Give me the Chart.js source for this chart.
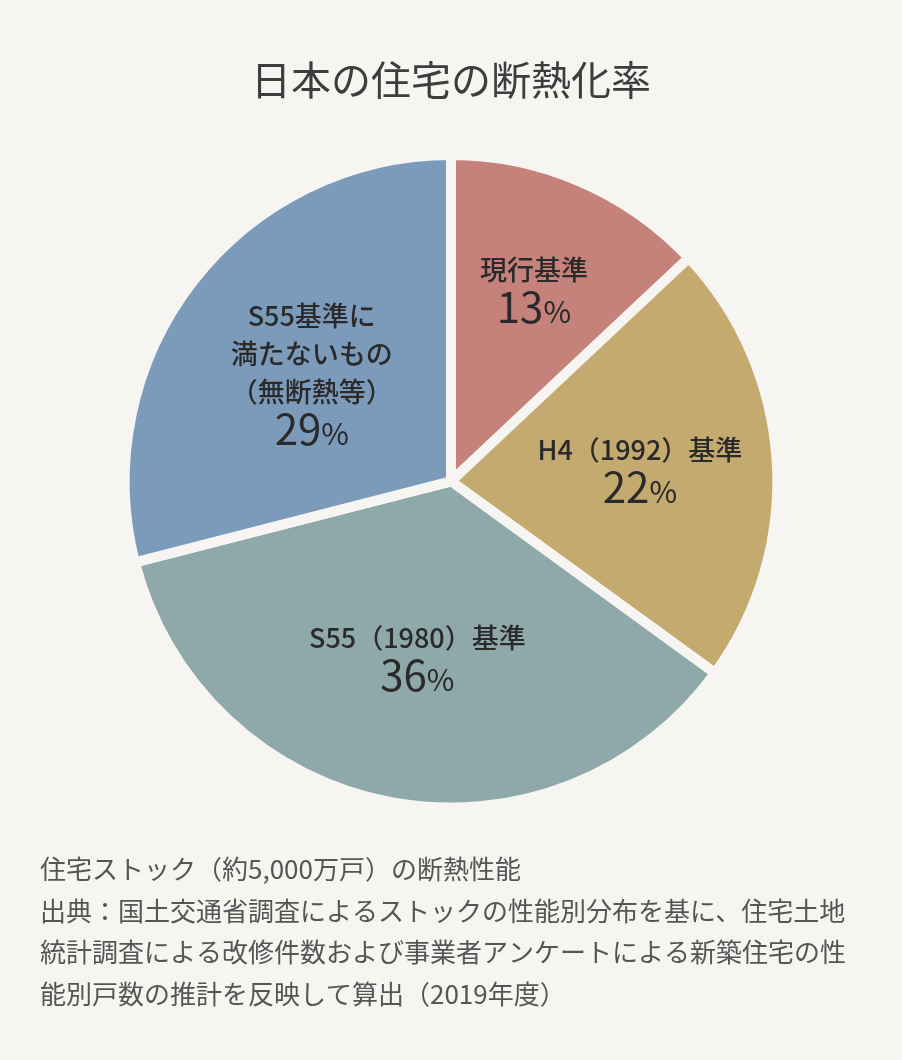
<!DOCTYPE html>
<html lang="ja">
<head>
<meta charset="utf-8">
<title>日本の住宅の断熱化率</title>
<script src="https://cdn.jsdelivr.net/npm/chart.js@4.4.1/dist/chart.umd.min.js"></script>
<style>
  html, body { margin: 0; padding: 0; background: #f7f5f1; }
  canvas { display: block; }
</style>
</head>
<body>
<canvas id="pie" width="902" height="1060"></canvas>
<script>
// data
const categories = [
  ['現行基準'],
  ['H4（1992）基準'],
  ['S55（1980）基準'],
  ['S55基準に', '満たないもの', '（無断熱等）'],
]
const shares = [13, 22, 36, 29]
const sliceColors = ['#c5827a', '#c5aa6f', '#8fa8aa', '#7c9bbb']
const titleText = '日本の住宅の断熱化率'
const noteLines = [
  '住宅ストック（約5,000万戸）の断熱性能',
  '出典：国土交通省調査によるストックの性能別分布を基に、住宅土地',
  '統計調査による改修件数および事業者アンケートによる新築住宅の性',
  '能別戸数の推計を反映して算出（2019年度）',
]

const bg = '#f7f5f1'
const jp = "'Noto Sans CJK JP', 'Noto Sans', sans-serif"
// how far out (share of radius) each label block sits
const labelRadius = [0.64, 0.58, 0.55, 0.54]

// draws the names and percentages inside the slices
const sliceLabels = {
  id: 'sliceLabels',
  afterDatasetsDraw(chart) {
    const ctx = chart.ctx
    const arcs = chart.getDatasetMeta(0).data
    arcs.forEach((arc, i) => {
      const p = arc.getProps(['x', 'y', 'startAngle', 'endAngle', 'outerRadius'], true)
      const mid = (p.startAngle + p.endAngle) / 2
      const r = p.outerRadius * labelRadius[i]
      const cx = p.x + Math.cos(mid) * r
      const cy = p.y + Math.sin(mid) * r

      const lines = categories[i]
      const lineGap = 38
      const blockH = (lines.length - 1) * lineGap + 52 + 13
      const firstY = cy - blockH / 2 + 13

      ctx.save()
      ctx.fillStyle = '#2a2a2a'
      ctx.textAlign = 'center'
      ctx.textBaseline = 'middle'
      ctx.font = '500 27px ' + jp
      lines.forEach((t, k) => ctx.fillText(t, cx, firstY + k * lineGap))

      // percentage: big number, smaller % sign
      const base = firstY + (lines.length - 1) * lineGap + 53
      const num = String(shares[i])
      ctx.textBaseline = 'alphabetic'
      ctx.textAlign = 'left'
      ctx.font = '400 42px ' + jp
      const wNum = ctx.measureText(num).width
      ctx.font = '400 30px ' + jp
      const wPct = ctx.measureText('%').width
      const x0 = cx - (wNum + wPct) / 2
      ctx.font = '400 42px ' + jp
      ctx.fillText(num, x0, base)
      ctx.font = '400 30px ' + jp
      ctx.fillText('%', x0 + wNum, base)
      ctx.restore()
    })
  },
}

const pieConfig = {
  type: 'pie',
  data: {
    labels: categories.map(l => l.join('')),
    datasets: [
      {
        data: shares,
        backgroundColor: sliceColors,
        borderColor: bg,
        borderWidth: 10,
      },
    ],
  },
  options: {
    responsive: false,
    animation: false,
    layout: { padding: { left: 40, right: 40, top: 0, bottom: 0 } },
    plugins: {
      legend: { display: false },
      tooltip: { enabled: false },
      title: {
        display: true,
        text: titleText,
        color: '#3d3d3d',
        font: { family: jp, size: 40, weight: 'normal', lineHeight: 1.2 },
        padding: { top: 56, bottom: 46 },
      },
      subtitle: {
        display: true,
        position: 'bottom',
        align: 'start',
        text: noteLines,
        color: '#555555',
        font: { family: jp, size: 26, weight: 'normal', lineHeight: 1.6 },
        padding: { top: 36, bottom: 45 },
      },
    },
  },
  plugins: [sliceLabels],
}

const pieCtx = document.getElementById('pie')
window.myPie = new Chart(pieCtx, pieConfig)
</script>
</body>
</html>
